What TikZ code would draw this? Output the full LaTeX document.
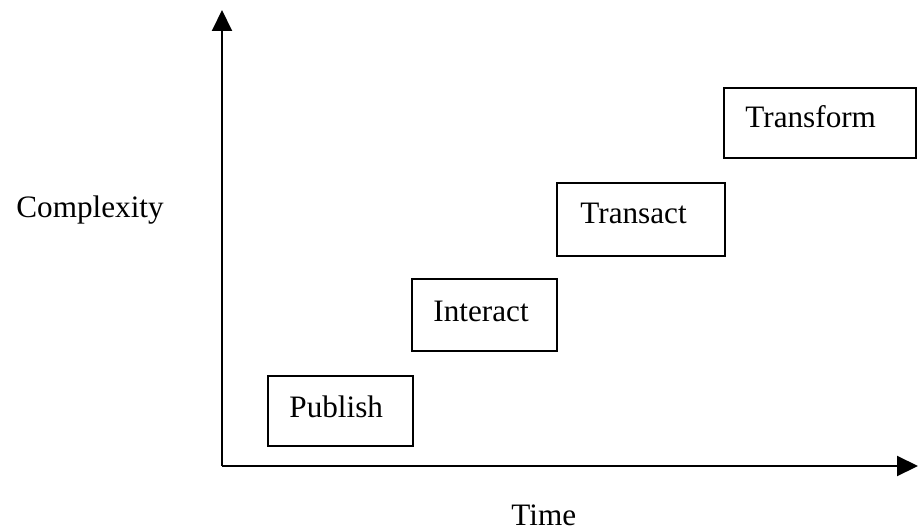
\documentclass[tikz,border=0pt]{standalone}
\usepackage{fontspec}
\setmainfont{Liberation Serif}
\usetikzlibrary{arrows.meta}
\begin{document}
\begin{tikzpicture}[x=0.5pt,y=-0.5pt,
  axisline/.style={line width=1pt,-{Triangle[width=10pt,length=10.5pt]}},
  stagebox/.style={draw,line width=1pt,rectangle,inner sep=0pt},
  stagetext/.style={anchor=base west,inner sep=0pt,font=\fontsize{15.6pt}{18pt}\selectfont},
  axistext/.style={anchor=base west,inner sep=0pt,font=\fontsize{15.6pt}{18pt}\selectfont}]
\useasboundingbox (0,0) rectangle (919,529);

% axes
\coordinate (origin) at (222,466);
\coordinate (ytip) at (222,10);
\coordinate (xtip) at (918,466);
\draw[axisline] (origin) -- (ytip);
\draw[axisline] (origin) -- (xtip);

\node[axistext] (ylab) at (16,217) {Complexity};
\node[axistext] (xlab) at (511,525) {Time};

% stages
\node[stagebox,minimum width=72.5pt,minimum height=35pt] (pub) at (340.5,411) {};
\node[stagetext] (pubt) at (289,417) {Publish};

\node[stagebox,minimum width=72.5pt,minimum height=36pt] (int) at (484.5,315) {};
\node[stagetext] (intt) at (433,321) {Interact};

\node[stagebox,minimum width=84pt,minimum height=36.5pt] (tra) at (641,219.5) {};
\node[stagetext] (trat) at (580,223) {Transact};

\node[stagebox,minimum width=96pt,minimum height=35pt] (trf) at (820,123) {};
\node[stagetext] (trft) at (745,128) {Transform};
\end{tikzpicture}
\end{document}
